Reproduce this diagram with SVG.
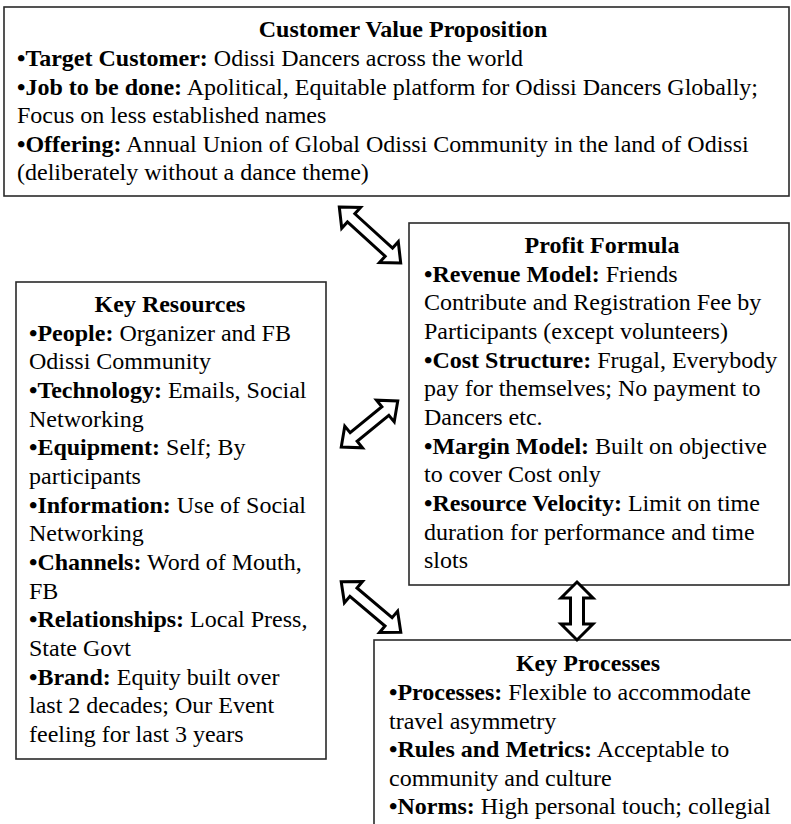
<svg xmlns="http://www.w3.org/2000/svg" width="791" height="824" viewBox="0 0 791 824">
<style>
  .box { fill: #ffffff; stroke: #2a2a2a; stroke-width: 1.6; }
  .t { font-family: "Liberation Serif", "Times New Roman", serif; font-size: 24px; fill: #000; }
  .ttl { font-weight: bold; text-anchor: middle; }
  .b { font-weight: bold; }
  .arr { fill: #ffffff; stroke: #000; stroke-width: 3; stroke-linejoin: miter; }
</style>
<rect width="791" height="824" fill="#ffffff"/>

<g id="customer-value-proposition">
  <rect class="box" x="4" y="7" width="785" height="189"/>
  <text class="t ttl" x="403" y="37">Customer Value Proposition</text>
  <text class="t" x="17" y="66"><tspan class="b">•Target Customer:</tspan> Odissi Dancers across the world</text>
  <text class="t" x="17" y="95"><tspan class="b">•Job to be done:</tspan> Apolitical, Equitable platform for Odissi Dancers Globally;</text>
  <text class="t" x="17" y="123">Focus on less established names</text>
  <text class="t" x="17" y="152"><tspan class="b">•Offering:</tspan> Annual Union of Global Odissi Community in the land of Odissi</text>
  <text class="t" x="17" y="180">(deliberately without a dance theme)</text>
</g>

<g id="key-resources">
  <rect class="box" x="16" y="282" width="310" height="477"/>
  <text class="t ttl" x="170" y="312">Key Resources</text>
  <text class="t" x="29" y="340.7"><tspan class="b">•People:</tspan> Organizer and FB</text>
  <text class="t" x="29" y="369.3">Odissi Community</text>
  <text class="t" x="29" y="398"><tspan class="b">•Technology:</tspan> Emails, Social</text>
  <text class="t" x="29" y="426.7">Networking</text>
  <text class="t" x="29" y="455.3"><tspan class="b">•Equipment:</tspan> Self; By</text>
  <text class="t" x="29" y="484">participants</text>
  <text class="t" x="29" y="512.7"><tspan class="b">•Information:</tspan> Use of Social</text>
  <text class="t" x="29" y="541.3">Networking</text>
  <text class="t" x="29" y="570"><tspan class="b">•Channels:</tspan> Word of Mouth,</text>
  <text class="t" x="29" y="598.7">FB</text>
  <text class="t" x="29" y="627.3"><tspan class="b">•Relationships:</tspan> Local Press,</text>
  <text class="t" x="29" y="656">State Govt</text>
  <text class="t" x="29" y="684.7"><tspan class="b">•Brand:</tspan> Equity built over</text>
  <text class="t" x="29" y="713.3">last 2 decades; Our Event</text>
  <text class="t" x="29" y="742">feeling for last 3 years</text>
</g>

<g id="profit-formula">
  <rect class="box" x="409" y="223" width="380" height="362"/>
  <text class="t ttl" x="602" y="253">Profit Formula</text>
  <text class="t" x="424" y="281.7"><tspan class="b">•Revenue Model:</tspan> Friends</text>
  <text class="t" x="424" y="310.3">Contribute and Registration Fee by</text>
  <text class="t" x="424" y="339">Participants (except volunteers)</text>
  <text class="t" x="424" y="367.7"><tspan class="b">•Cost Structure:</tspan> Frugal, Everybody</text>
  <text class="t" x="424" y="396.3">pay for themselves; No payment to</text>
  <text class="t" x="424" y="425">Dancers etc.</text>
  <text class="t" x="424" y="453.7"><tspan class="b">•Margin Model:</tspan> Built on objective</text>
  <text class="t" x="424" y="482.3">to cover Cost only</text>
  <text class="t" x="424" y="511"><tspan class="b">•Resource Velocity:</tspan> Limit on time</text>
  <text class="t" x="424" y="539.7">duration for performance and time</text>
  <text class="t" x="424" y="568.3">slots</text>
</g>

<g id="key-processes">
  <rect class="box" x="374" y="640" width="430" height="200"/>
  <text class="t ttl" x="588" y="671">Key Processes</text>
  <text class="t" x="389" y="700"><tspan class="b">•Processes:</tspan> Flexible to accommodate</text>
  <text class="t" x="389" y="728.5">travel asymmetry</text>
  <text class="t" x="389" y="757"><tspan class="b">•Rules and Metrics:</tspan> Acceptable to</text>
  <text class="t" x="389" y="785.5">community and culture</text>
  <text class="t" x="389" y="814"><tspan class="b">•Norms:</tspan> High personal touch; collegial</text>
</g>

<g id="connectors">
  <polygon class="arr" transform="translate(370,235) rotate(42.3)" points="-41.5,0 -25.5,-14 -25.5,-5.5 25.5,-5.5 25.5,-14 41.5,0 25.5,14 25.5,5.5 -25.5,5.5 -25.5,14"/>
  <polygon class="arr" transform="translate(369.5,424) rotate(-39.3)" points="-36.5,0 -20.5,-14 -20.5,-5.5 20.5,-5.5 20.5,-14 36.5,0 20.5,14 20.5,5.5 -20.5,5.5 -20.5,14"/>
  <polygon class="arr" transform="translate(371,607) rotate(40.2)" points="-39,0 -23,-14 -23,-5.5 23,-5.5 23,-14 39,0 23,14 23,5.5 -23,5.5 -23,14"/>
  <polygon class="arr" transform="translate(577,611) rotate(90)" points="-29,0 -13,-16 -13,-6.5 13,-6.5 13,-16 29,0 13,16 13,6.5 -13,6.5 -13,16"/>
</g>
</svg>
